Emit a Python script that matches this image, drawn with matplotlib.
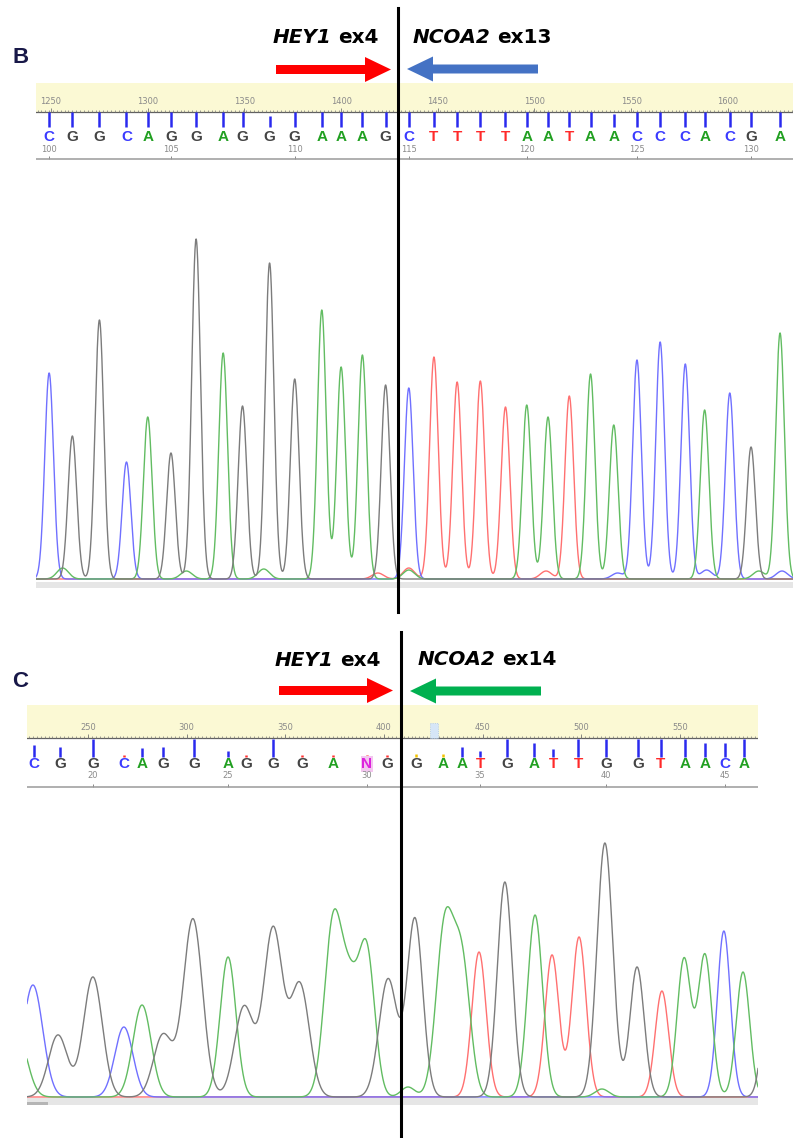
import numpy as np
import matplotlib
matplotlib.use("Agg")
import matplotlib.pyplot as plt
from matplotlib.patches import FancyArrow, Rectangle

W, H = 795, 1138

# panel B: base calls / peaks (scan units), peak heights, call quality
b_bases = "CGGCAGGAGGGAAAGCTTTTAATAACCCACGA"
b_pos = [1249, 1261, 1275, 1289, 1300, 1312, 1325, 1339, 1349, 1363, 1376, 1390, 1400, 1411, 1423,
         1435, 1448, 1460, 1472, 1485, 1496, 1507, 1518, 1529, 1541, 1553, 1565, 1578, 1588, 1601, 1612, 1627]
b_height = [206, 143, 259, 117, 162, 126, 340, 226, 173, 316, 200, 269, 212, 224, 194,
            191, 222, 197, 198, 172, 174, 162, 183, 205, 154, 219, 237, 215, 169, 186, 132, 246]
b_qual = [40, 40, 40, 40, 40, 40, 40, 40, 40, 29, 40, 40, 40, 40, 40, 40,
          40, 40, 40, 40, 40, 40, 40, 40, 34, 40, 40, 40, 40, 40, 40, 40]
b_first = 100
b_scale = [1250, 1300, 1350, 1400, 1450, 1500, 1550, 1600]
b_minor_pos = [1256, 1320, 1360, 1419, 1435, 1435, 1506, 1543, 1589, 1616, 1628]
b_minor_height = [11, 8, 10, 6, 11, 9, 8, 6, 9, 8, 8]
b_minor_base = "AAATTATCCAC"

# panel C
c_bases = "CGGCAGGAGGGANGGAATGATTGGTAACA"
c_pos = [222.6, 235.8, 252.5, 268.2, 277.4, 288.0, 303.7, 321.0, 330.1, 343.8, 358.5, 374.2, 391.4, 401.5,
         416.2, 429.9, 439.6, 448.7, 462.4, 476.0, 485.7, 498.4, 512.5, 528.8, 540.4, 552.6, 562.7, 572.9, 582.5]
c_qual = [27, 22, 40, 4, 20, 22, 40, 14, 4, 40, 4, 4, 4, 4,
          6, 6, 22, 14, 40, 31, 18, 40, 40, 40, 40, 40, 31, 31, 40]
c_first = 18
c_scale = [250, 300, 350, 400, 450, 500, 550]
c_peak_base = "ACGGCAGGAGGGAAAGAGAATGATTAGGTAACAG"
c_peak_pos = [214.5, 222.1, 234.8, 252.5, 268.2, 277.4, 288.0, 303.2, 321.0, 329.1, 343.8, 357.4, 374.2,
              382.8, 391.4, 402.1, 412.2, 415.7, 430.9, 439.6, 448.2, 461.3, 476.6, 485.2, 498.9, 510.5,
              512.0, 528.3, 540.9, 552.1, 562.7, 572.3, 582.0, 595.7]
c_peak_height = [60, 112, 62, 120, 70, 92, 62, 178, 140, 90, 168, 112, 170, 100, 140, 118, 10, 178,
                 170, 130, 145, 215, 182, 142, 160, 8, 254, 130, 106, 138, 142, 166, 125, 130]
c_peak_width = [4.8, 5.0, 4.8, 4.8, 4.6, 4.6, 4.8, 4.9, 4.0, 4.8, 4.8, 4.8, 4.4, 4.4, 4.0, 4.6, 3.5,
                4.0, 4.4, 4.2, 3.6, 3.8, 3.8, 3.5, 3.6, 3.5, 4.0, 3.6, 3.4, 3.5, 3.5, 3.3, 3.4, 3.5]

trace_col = {"A": "#62bc62", "C": "#7070ff", "G": "#7c7c7c", "T": "#ff7070"}
letter_col = {"A": "#22a022", "C": "#3a3aff", "G": "#444444", "T": "#ff2a2a", "N": "#dd22dd"}

fig = plt.figure(figsize=(W / 100, H / 100), dpi=100)


def px_axes(x0, y0, x1, y1):
    ax = fig.add_axes([x0 / W, 1 - y1 / H, (x1 - x0) / W, (y1 - y0) / H])
    ax.axis("off")
    return ax


def ruler(box, xlim, bases, pos, qual, first, scale, lay):
    x0, y0, x1, y1 = box
    ax = px_axes(x0, y0, x1, y1)
    ax.set_xlim(xlim)
    ax.set_ylim(y1, y0)
    ax.axhspan(lay["band"], lay["line"], color="#fbf9d4", lw=0)
    ax.axhline(lay["line"], color="#606060", lw=0.9)
    minor = np.arange(np.ceil(xlim[0]), xlim[1], 2)
    ax.vlines(minor, lay["line"] - 2, lay["line"], color="#777777", lw=0.5)
    ax.vlines(scale, lay["line"] - 4, lay["line"], color="#777777", lw=0.6)
    for s in scale:
        ax.text(s, lay["scale_y"], str(s), ha="center", va="center", fontsize=6, color="#8a8a8a")
    q = np.array(qual, dtype=float)
    cols = ["#ff3030" if v < 5 else "#f2c200" if v < 10 else "#2a2aee" for v in q]
    ax.vlines(pos, lay["stem"] - np.maximum(q * lay["k"], 2.5), lay["stem"], colors=cols, lw=1.8)
    for i, (b, p) in enumerate(zip(bases, pos)):
        bb = dict(boxstyle="square,pad=0.05", fc="#f3c6ef", ec="none") if b == "N" else None
        ax.text(p, lay["letter"], b, ha="center", va="center", fontsize=11, weight="bold",
                color=letter_col[b], family="Liberation Sans", bbox=bb)
        if (first + i) % 5 == 0:
            ax.text(p, lay["num"], str(first + i), ha="center", va="center", fontsize=6, color="#8a8a8a")
            ax.vlines(p, lay["grey"] - 3, lay["grey"], color="#888888", lw=0.7)
    ax.axhline(lay["grey"], color="#9a9a9a", lw=1.1)
    return ax


def traces(box, xlim, ytop, peaks_pos, peaks_h, peaks_base, widths, band):
    x0, y0, x1, y1 = box
    ax = px_axes(x0, y0, x1, y1)
    ax.set_xlim(xlim)
    ax.set_ylim(-11, ytop)
    ax.axhspan(band[0], band[1], color="#e6e6e6", lw=0)
    xs = np.linspace(xlim[0], xlim[1], 4000)
    for b in "TCAG":
        y = np.zeros_like(xs)
        for p, h, pb, w in zip(peaks_pos, peaks_h, peaks_base, widths):
            if pb == b:
                y += h * np.exp(-(xs - p) ** 2 / (2 * w ** 2))
        ax.plot(xs, y, color=trace_col[b], lw=1.0)
    return ax


# ---- panel B ----
b_xlim = (1242.2, 1633.7)
ruler((36, 80, 793, 163), b_xlim, b_bases, b_pos, b_qual, b_first, b_scale,
      dict(band=83, line=112, scale_y=101, stem=127, k=0.37, letter=137, num=150, grey=159))
b_all_pos = b_pos + b_minor_pos
b_all_h = b_height + b_minor_height
b_all_base = b_bases + b_minor_base
b_widths = [2.25] * len(b_pos) + [3.0] * len(b_minor_pos)
traces((36, 200, 793, 590), b_xlim, 379, b_all_pos, b_all_h, b_all_base, b_widths, (-9, -3))

# ---- panel C ----
c_xlim = (219.1, 589.6)
ruler((27, 700, 758, 792), c_xlim, c_bases, c_pos, c_qual, c_first, c_scale,
      dict(band=705, line=738, scale_y=728, stem=757, k=0.45, letter=764, num=776, grey=787))
axc = traces((27, 800, 758, 1108), c_xlim, 297, c_peak_pos, c_peak_height, c_peak_base,
             c_peak_width, (-8, -1))
axc.axvspan(219.1, 229.7, ymin=3 / 308, ymax=6 / 308, color="#b5b5b5", lw=0)

# ---- overlay: labels, arrows, junction lines ----
ov = fig.add_axes([0, 0, 1, 1], zorder=10)
ov.set_xlim(0, W)
ov.set_ylim(H, 0)
ov.axis("off")
ov.patch.set_alpha(0)

ov.add_patch(Rectangle((430, 723), 8, 15, fc="#d6e6f7", ec="#a8c4e8", lw=0.6, ls=":"))

for lab, yb in (("B", 63), ("C", 687)):
    ov.text(12, yb, lab, fontsize=16, weight="bold", color="#181848", va="baseline",
            family="Liberation Sans")

renderer = fig.canvas.get_renderer()


def gene_label(x, y, gene, exon):
    t = ov.text(x, y, gene, fontsize=14.4, weight="bold", style="italic", va="baseline",
                family="DejaVu Sans")
    bb = t.get_window_extent(renderer=renderer)
    xe = ov.transData.inverted().transform((bb.x1, bb.y0))[0]
    ov.text(xe + 6, y, exon, fontsize=14.4, weight="bold", va="baseline", family="DejaVu Sans")


gene_label(273, 43, "HEY1", "ex4")
gene_label(413, 43, "NCOA2", "ex13")
gene_label(275, 666, "HEY1", "ex4")
gene_label(418, 665, "NCOA2", "ex14")

arrows = [(276, 69.5, 391, "#ff0000"), (538, 69, 407, "#4472c4"),
          (279, 690.5, 393, "#ff0000"), (541, 691, 410, "#00b050")]
for xs_, y_, xt, col in arrows:
    ov.add_patch(FancyArrow(xs_, y_, xt - xs_, 0, width=9, head_width=25, head_length=26,
                            length_includes_head=True, color=col, lw=0))

ov.plot([398, 398], [8, 612], color="black", lw=2.2)
ov.plot([401, 401], [632, 1138], color="black", lw=2.2)

fig.savefig("out.png", dpi=100)
